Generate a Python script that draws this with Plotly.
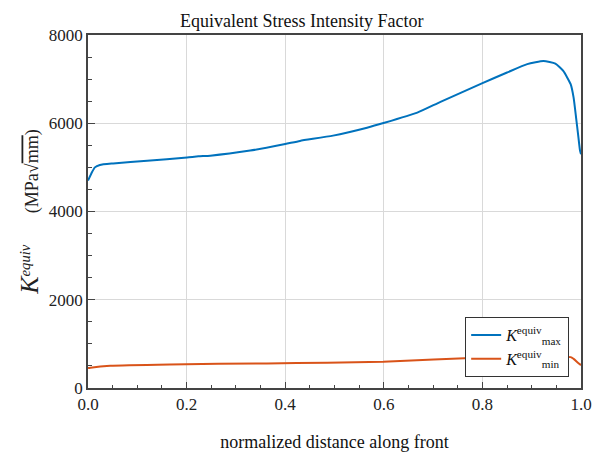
import plotly.graph_objects as go

# normalized distance along front and K values
x_max = [0.0, 0.008, 0.014, 0.024, 0.051, 0.120, 0.201, 0.224, 0.248, 0.329, 0.400,
         0.430, 0.497, 0.566, 0.601, 0.668, 0.715, 0.799, 0.850, 0.891, 0.924,
         0.948, 0.964, 0.979, 0.985, 0.990, 0.994, 0.998, 1.0]
k_max = [4700, 4890, 5000, 5055, 5090, 5150, 5225, 5250, 5265, 5380, 5530,
         5600, 5720, 5900, 6010, 6240, 6485, 6905, 7150, 7340, 7410,
         7350, 7185, 6885, 6580, 6130, 5755, 5380, 5300]

x_min = [0.0, 0.005, 0.045, 0.166, 0.363, 0.485, 0.599, 0.802, 0.979, 0.985, 0.995, 1.0]
k_min = [450, 460, 505, 535, 558, 572, 595, 690, 700, 660, 560, 520]

x_ticks = [0.0, 0.2, 0.4, 0.6, 0.8, 1.0]
x_tick_text = ["0.0", "0.2", "0.4", "0.6", "0.8", "1.0"]
y_ticks = [0, 2000, 4000, 6000, 8000]
y_tick_text = ["0", "2000", "4000", "6000", "8000"]

BLUE = "#0072BD"
ORANGE = "#D95319"
SERIF = "Liberation Serif"

fig = go.Figure()
fig.add_trace(go.Scatter(x=x_max, y=k_max, mode="lines",
                         line=dict(color=BLUE, width=2, shape="spline", smoothing=0.5),
                         name="<i>K</i><sup>equiv</sup><sub>max</sub>"))
fig.add_trace(go.Scatter(x=x_min, y=k_min, mode="lines",
                         line=dict(color=ORANGE, width=2, shape="spline", smoothing=0.5),
                         name="<i>K</i><sup>equiv</sup><sub>min</sub>"))

axis_common = dict(
    showline=True, linecolor="#444", linewidth=1.5, mirror=True,
    showgrid=True, gridcolor="#d9d9d9", gridwidth=1,
    zeroline=False, ticks="inside", tickcolor="#444",
    tickfont=dict(family=SERIF, size=17, color="#222"),
    automargin=False,
)

fig.update_xaxes(
    range=[0, 1], tickvals=x_ticks, ticktext=x_tick_text, ticklen=6,
    minor=dict(dtick=0.05, ticks="inside", ticklen=3, tickcolor="#444", showgrid=False),
    title=dict(text="normalized distance along front",
               font=dict(family=SERIF, size=18, color="#111"), standoff=22),
    **axis_common,
)
fig.update_yaxes(
    range=[0, 8000], tickvals=y_ticks, ticktext=y_tick_text, ticklen=7,
    minor=dict(dtick=500, ticks="inside", ticklen=4, tickcolor="#444", showgrid=False),
    title=dict(text="<i><span style='font-size:26px'>K</span><sup>equiv</sup></i>"
                    "&nbsp;&nbsp;&nbsp;&nbsp;&nbsp;&nbsp;"
                    "<span style='font-size:18px'>(MPa√<span style='text-decoration:overline'>mm</span>)</span>",
               font=dict(family=SERIF, size=21, color="#222"), standoff=4),
    **axis_common,
)

fig.update_layout(
    width=593, height=452,
    margin=dict(l=88, r=12, t=35, b=64),
    paper_bgcolor="white", plot_bgcolor="white",
    title=dict(text="Equivalent Stress Intensity Factor", x=0.509, xanchor="center",
               y=0.955, yanchor="middle", xref="container", yref="container",
               font=dict(family=SERIF, size=18, color="#111")),
    legend=dict(x=0.976, y=0.031, xanchor="right", yanchor="bottom",
                bgcolor="white", bordercolor="#333", borderwidth=1,
                font=dict(family=SERIF, size=16, color="#111"),
                itemwidth=30, tracegroupgap=0),
    showlegend=True,
)

fig.write_html("out.html", config={"displayModeBar": False},
               post_script="document.body.style.margin='0';")
